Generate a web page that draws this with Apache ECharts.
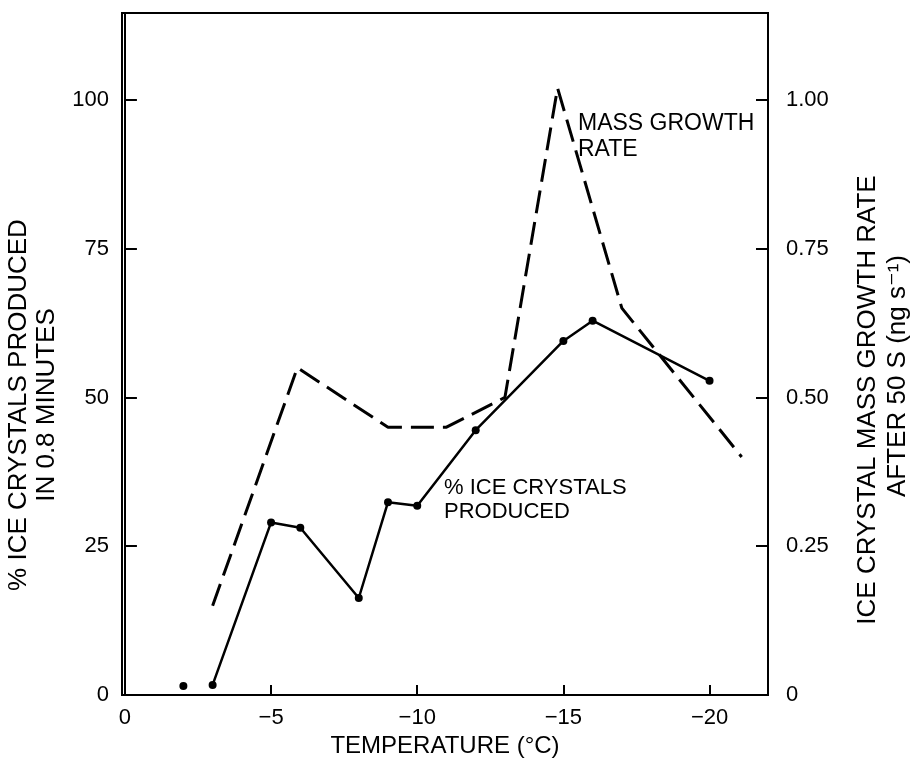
<!DOCTYPE html>
<html>
<head>
<meta charset="utf-8">
<script src="https://cdn.jsdelivr.net/npm/echarts@6/dist/echarts.min.js"></script>
<style>
  html, body { margin: 0; padding: 0; background: #fff; }
  #chart { width: 914px; height: 766px; }
</style>
</head>
<body>
<div id="chart"></div>
<script>
// Axis tick positions
const tempTicks = [0, -5, -10, -15, -20];
const pctTicks = [0, 25, 50, 75, 100];
const rateTicks = [0, 0.25, 0.5, 0.75, 1.0];

// % ice crystals produced in 0.8 minutes (left axis)
const pctTemps = [-2, -3, -5, -6, -8, -9, -10, -12, -15, -16, -20];
const pctValues = [1.5, 1.7, 29.0, 28.1, 16.3, 32.4, 31.8, 44.5, 59.5, 62.9, 52.8];

// Ice crystal mass growth rate after 50 s, ng/s (right axis)
const rateTemps = [-3, -5.9, -9, -11, -13, -14.8, -17, -21.1];
const rateValues = [0.15, 0.55, 0.45, 0.45, 0.50, 1.02, 0.65, 0.40];

const FONT = '"Liberation Sans", "DejaVu Sans", sans-serif';
const INK = '#000';

const pctPairs = pctTemps.map((t, i) => [t, pctValues[i]]);
const ratePairs = rateTemps.map((t, i) => [t, rateValues[i]]);

const chart = echarts.init(document.getElementById('chart'), null, { renderer: 'canvas' });

const labelStyle = { color: INK, fontFamily: FONT, fontSize: 22 };

function title(text, x, y, size, rotated, align) {
  return {
    type: 'text', x: x, y: y, rotation: rotated ? Math.PI / 2 : 0,
    style: { text: text, fill: INK, font: size + 'px ' + FONT, textAlign: align || 'center', textVerticalAlign: 'middle' }
  };
}

chart.setOption({
  backgroundColor: '#fff',
  animation: false,
  grid: {
    left: 122, right: 146, top: 13, bottom: 71,
    show: true, borderColor: INK, borderWidth: 2, backgroundColor: 'transparent'
  },
  xAxis: {
    type: 'value',
    inverse: true,
    min: -22,
    max: 0.1,
    splitLine: { show: false },
    axisLine: { show: true, lineStyle: { color: INK, width: 2 } },
    axisTick: { show: true, inside: true, length: 10, customValues: tempTicks, lineStyle: { color: INK, width: 2 } },
    axisLabel: Object.assign({}, labelStyle, {
      margin: 12,
      customValues: tempTicks,
      formatter: v => (v === 0 ? '0' : '\u2212' + Math.abs(v))
    })
  },
  yAxis: [
    {
      type: 'value',
      position: 'left',
      min: 0,
      max: 114.6,
      splitLine: { show: false },
      axisLine: { show: true, lineStyle: { color: INK, width: 2 } },
      axisTick: { show: true, inside: true, length: 12, customValues: pctTicks, lineStyle: { color: INK, width: 2 } },
      axisLabel: Object.assign({}, labelStyle, {
        margin: 13,
        customValues: pctTicks,
        formatter: v => String(v)
      })
    },
    {
      type: 'value',
      position: 'right',
      min: 0,
      max: 1.146,
      splitLine: { show: false },
      axisLine: { show: true, lineStyle: { color: INK, width: 2 } },
      axisTick: { show: true, inside: true, length: 12, customValues: rateTicks, lineStyle: { color: INK, width: 2 } },
      axisLabel: Object.assign({}, labelStyle, {
        margin: 18,
        customValues: rateTicks,
        formatter: v => (v === 0 ? '0' : v.toFixed(2))
      })
    }
  ],
  series: [
    {
      name: 'Mass growth rate',
      type: 'line',
      yAxisIndex: 1,
      data: ratePairs,
      showSymbol: false,
      lineStyle: { color: INK, width: 3, type: [23, 9] },
      z: 2
    },
    {
      name: '% ice crystals produced',
      type: 'line',
      yAxisIndex: 0,
      data: pctPairs.slice(1),
      symbol: 'circle',
      symbolSize: 8,
      itemStyle: { color: INK },
      lineStyle: { color: INK, width: 2.5 },
      z: 3
    },
    {
      name: '% ice crystals produced (isolated)',
      type: 'scatter',
      yAxisIndex: 0,
      data: pctPairs.slice(0, 1),
      symbol: 'circle',
      symbolSize: 8,
      itemStyle: { color: INK, opacity: 1 },
      z: 3
    }
  ],
  graphic: [
    // axis titles
    title('TEMPERATURE (\u00B0C)', 445, 746, 24, false),
    title('% ICE CRYSTALS PRODUCED', 19, 405, 26, true),
    title('IN 0.8 MINUTES', 47, 405, 26, true),
    title('ICE CRYSTAL MASS GROWTH RATE', 868, 400, 26, true),
    title('AFTER 50 S (ng s\u207B\u00B9)', 898, 376, 26, true),
    // in-plot annotations
    title('MASS GROWTH', 578, 124, 23, false, 'left'),
    title('RATE', 578, 150, 23, false, 'left'),
    title('% ICE CRYSTALS', 444, 488, 22, false, 'left'),
    title('PRODUCED', 444, 512, 22, false, 'left')
  ]
});
</script>
</body>
</html>
